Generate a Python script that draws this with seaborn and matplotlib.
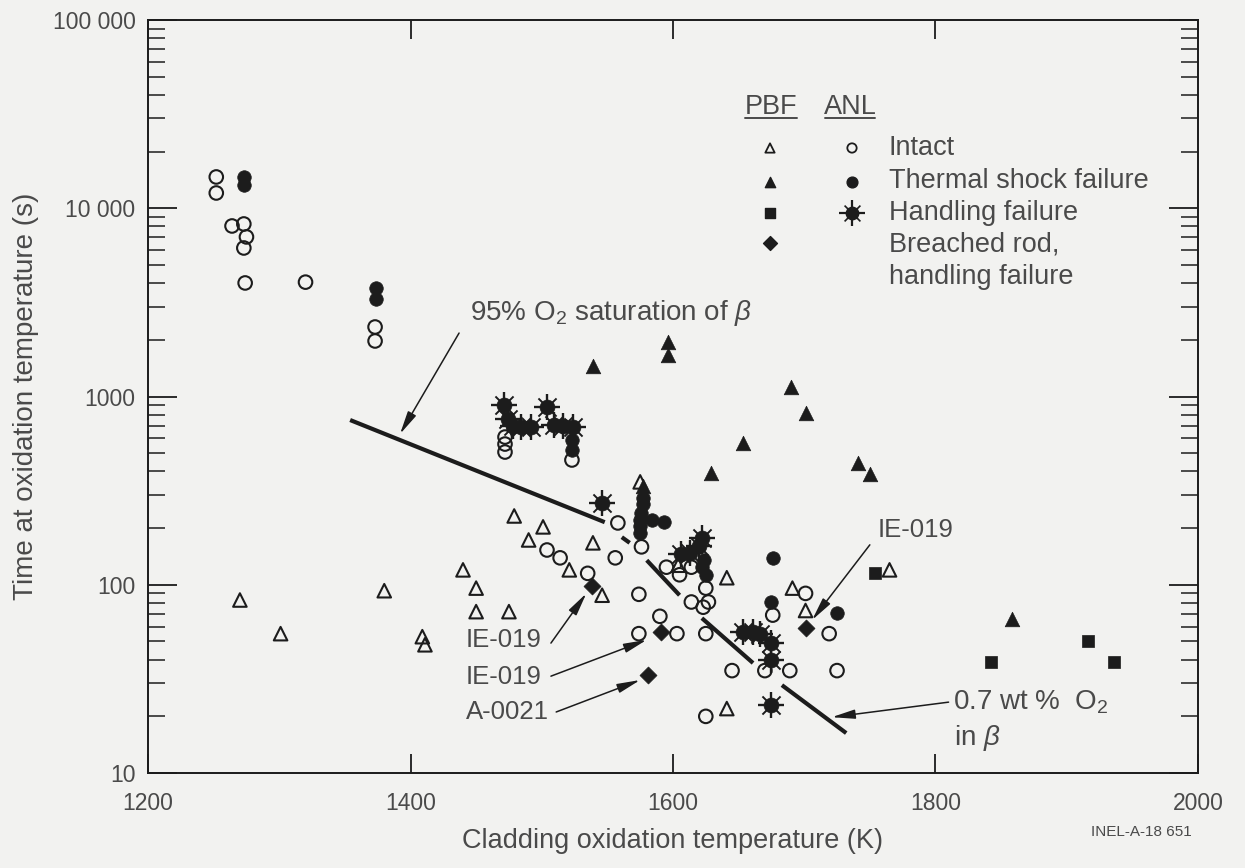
import numpy as np
import pandas as pd
import matplotlib
matplotlib.use("Agg")
import matplotlib.pyplot as plt
import seaborn as sns
from matplotlib.ticker import LogLocator, NullFormatter

# ---- data ----
# PBF intact (open triangles)
pbf_intact_temp = [1270, 1301, 1380, 1409, 1411, 1440, 1450, 1450, 1475, 1479, 1490, 1501,
                   1521, 1539, 1546, 1575, 1604, 1641, 1691, 1701, 1641, 1765]
pbf_intact_time = [83, 55, 93, 53, 48, 120, 96, 72, 72, 232, 173, 203,
                   120, 167, 88, 352, 127, 109, 96, 73, 22, 120]

# PBF thermal shock failure (filled triangles)
pbf_shock_temp = [1539, 1596, 1596, 1577, 1629, 1653, 1690, 1701, 1741, 1750, 1858]
pbf_shock_time = [1450, 1950, 1660, 335, 392, 566, 1123, 817, 443, 387, 66]

# PBF handling failure (filled squares)
pbf_handling_temp = [1754, 1842, 1916, 1936]
pbf_handling_time = [115, 39, 50, 39]

# PBF breached rod, handling failure (filled diamonds)
pbf_breached_temp = [1701, 1581, 1538, 1591]
pbf_breached_time = [59, 33, 98, 56]

# ANL intact (open circles)
anl_intact_temp = [1252, 1252, 1264, 1273, 1275, 1273, 1274, 1320, 1373, 1373,
                   1472, 1472, 1472, 1523, 1558, 1556, 1535, 1514, 1504, 1574,
                   1576, 1590, 1574, 1603, 1595, 1605, 1614, 1614, 1625, 1627,
                   1623, 1625, 1645, 1670, 1676, 1689, 1719, 1725, 1625, 1701]
anl_intact_time = [14660, 12050, 8050, 8250, 7040, 6150, 4010, 4050, 2340, 1972,
                   609, 559, 507, 460, 213, 139, 115, 139, 153, 89,
                   159, 68, 55, 55, 124, 113, 124, 81, 96, 81,
                   76, 55, 35, 35, 69, 35, 55, 35, 20, 90]

# ANL thermal shock failure (filled circles)
anl_shock_temp = [1273, 1273, 1374, 1374, 1523, 1523, 1577, 1577, 1576, 1575,
                  1584, 1593, 1575, 1575, 1624, 1622, 1625, 1676, 1675, 1725]
anl_shock_time = [14660, 13290, 3770, 3296, 587, 520, 290, 268, 240, 222,
                  220, 215, 205, 188, 135, 124, 113, 139, 81, 71]

# ANL handling failure (spiked dots)
anl_handling_temp = [1471, 1474, 1478, 1484, 1492, 1504, 1509, 1516, 1524, 1546,
                     1622, 1620, 1613, 1606, 1653, 1661, 1666, 1675, 1675, 1675]
anl_handling_time = [900, 760, 700, 690, 690, 880, 710, 700, 690, 272,
                     177, 160, 148, 145, 56, 56, 55, 49, 40, 23]

# reference lines
sat95_temp = [1354, 1548]
sat95_time = [750, 215]
o2_07_temp = [(1561, 1567), (1580, 1605), (1622, 1661), (1683, 1732)]
o2_07_time = [(179, 167), (135, 88), (66.5, 38.4), (29.3, 16.3)]

xticks = [1200, 1400, 1600, 1800, 2000]
yticks = [10, 100, 1000, 10000, 100000]
ytick_labels = ["10", "100", "1000", "10 000", "100 000"]

INK = "#1c1c1c"
TXT = "#4a4a4a"
BG = "#f2f2f0"

frames = []
for name, tx, ty in [("pbf_intact", pbf_intact_temp, pbf_intact_time),
                     ("pbf_shock", pbf_shock_temp, pbf_shock_time),
                     ("pbf_handling", pbf_handling_temp, pbf_handling_time),
                     ("pbf_breached", pbf_breached_temp, pbf_breached_time),
                     ("anl_intact", anl_intact_temp, anl_intact_time),
                     ("anl_shock", anl_shock_temp, anl_shock_time),
                     ("anl_handling", anl_handling_temp, anl_handling_time)]:
    frames.append(pd.DataFrame({"temp": tx, "time": ty, "series": name}))
df = pd.concat(frames, ignore_index=True)

sns.set_style("white")
plt.rcParams["font.family"] = ["Liberation Sans", "DejaVu Sans"]
plt.rcParams["mathtext.fontset"] = "custom"
plt.rcParams["mathtext.rm"] = "Liberation Sans"
plt.rcParams["mathtext.it"] = "Liberation Sans:italic"

fig = plt.figure(figsize=(12.45, 8.68), dpi=100, facecolor=BG)
ax = fig.add_axes([0.1189, 0.1094, 0.8433, 0.8676])
ax.set_facecolor(BG)

styles = {
    "pbf_intact": dict(marker="^", s=95, facecolors="none", edgecolor=INK, linewidth=1.5),
    "pbf_shock": dict(marker="^", s=110, color=INK, edgecolor=INK, linewidth=0.5),
    "pbf_handling": dict(marker="s", s=80, color=INK, edgecolor=INK, linewidth=0.5),
    "pbf_breached": dict(marker="D", s=75, color=INK, edgecolor=INK, linewidth=0.5),
    "anl_intact": dict(marker="o", s=95, facecolors="none", edgecolor=INK, linewidth=1.5),
    "anl_shock": dict(marker="o", s=95, color=INK, edgecolor=INK, linewidth=0.5),
    "anl_handling": dict(marker="o", s=115, color=INK, edgecolor=INK, linewidth=0.5),
}
for name, kw in styles.items():
    sub = df[df["series"] == name]
    sns.scatterplot(data=sub, x="temp", y="time", ax=ax, legend=False, zorder=3, **kw)
    if name == "anl_handling":
        sns.scatterplot(data=sub, x="temp", y="time", ax=ax, legend=False, zorder=3,
                        marker="+", s=360, color=INK, linewidth=1.7)
        sns.scatterplot(data=sub, x="temp", y="time", ax=ax, legend=False, zorder=3,
                        marker="x", s=170, color=INK, linewidth=1.4)

ax.plot(sat95_temp, sat95_time, color=INK, lw=3, solid_capstyle="butt", zorder=2)
for tx, ty in zip(o2_07_temp, o2_07_time):
    ax.plot(tx, ty, color=INK, lw=3, solid_capstyle="butt", zorder=2)

ax.set_yscale("log")
ax.set_xlim(1200, 2000)
ax.set_ylim(10, 100000)
ax.set_xticks(xticks)
ax.set_xticklabels([str(v) for v in xticks])
ax.set_yticks(yticks)
ax.set_yticklabels(ytick_labels)
ax.yaxis.set_minor_locator(LogLocator(base=10, subs=np.arange(2, 10)))
ax.yaxis.set_minor_formatter(NullFormatter())

ax.tick_params(axis="both", which="both", direction="in", top=True, right=True,
               left=True, bottom=True, colors=INK, labelcolor=TXT, labelsize=16.5)
ax.tick_params(axis="y", which="major", length=21, width=1.3, pad=9)
ax.tick_params(axis="y", which="minor", length=12, width=1.1)
ax.tick_params(axis="x", which="major", length=14, width=1.3, pad=14)
for sp in ax.spines.values():
    sp.set_color(INK)
    sp.set_linewidth(1.4)

ax.set_xlabel("Cladding oxidation temperature (K)", fontsize=19.5, color=TXT, labelpad=9)
ax.set_ylabel("Time at oxidation temperature (s)", fontsize=20, color=TXT, labelpad=10)

# annotations
arrow = dict(arrowstyle="-|>,head_length=1.4,head_width=0.28", color=INK, lw=1.1,
             shrinkA=0, shrinkB=0)
ax.text(1445, 2777, r"95% O$_2$ saturation of $\it{\beta}$", fontsize=20, color=TXT,
        ha="left", va="center")
ax.annotate("", xy=(1392, 632), xytext=(1437, 2173), arrowprops=arrow)

ax.text(1756, 195, "IE-019", fontsize=18.5, color=TXT, ha="left", va="center")
ax.annotate("", xy=(1706, 65), xytext=(1750, 163), arrowprops=arrow)

ax.text(1442, 50.9, "IE-019", fontsize=18.5, color=TXT, ha="left", va="center")
ax.annotate("", xy=(1534, 90), xytext=(1507, 49), arrowprops=arrow)
ax.text(1442, 32.4, "IE-019", fontsize=18.5, color=TXT, ha="left", va="center")
ax.annotate("", xy=(1580, 51), xytext=(1507, 32.7), arrowprops=arrow)
ax.text(1442, 21.1, "A-0021", fontsize=18.5, color=TXT, ha="left", va="center")
ax.annotate("", xy=(1575, 31.2), xytext=(1511, 21.1), arrowprops=arrow)

ax.text(1813, 23.8, r"0.7 wt %  O$_2$", fontsize=20, color=TXT, ha="left", va="center")
ax.text(1814, 15.3, r"in $\it{\beta}$", fontsize=20, color=TXT, ha="left", va="center")
ax.annotate("", xy=(1721, 19.8), xytext=(1810, 23.8), arrowprops=arrow)

# legend drawn by hand
T = ax.transAxes
ax.text(0.5933, 0.8845, "PBF", transform=T, fontsize=19.5, color=TXT, ha="center", va="center")
ax.text(0.6686, 0.8845, "ANL", transform=T, fontsize=19.5, color=TXT, ha="center", va="center")
ax.plot([0.5686, 0.618], [0.8692, 0.8692], transform=T, color=TXT, lw=1.4)
ax.plot([0.6448, 0.6924], [0.8692, 0.8692], transform=T, color=TXT, lw=1.4)
rows = [0.830, 0.785, 0.7437, 0.7038]
ax.scatter([0.5924], [rows[0]], transform=T, marker="^", s=45, facecolors="none", edgecolors=INK, linewidths=1.3)
ax.scatter([0.5924], [rows[1]], transform=T, marker="^", s=55, color=INK)
ax.scatter([0.5924], [rows[2]], transform=T, marker="s", s=45, color=INK)
ax.scatter([0.5924], [rows[3]], transform=T, marker="D", s=50, color=INK)
ax.scatter([0.6705], [rows[0]], transform=T, marker="o", s=45, facecolors="none", edgecolors=INK, linewidths=1.3)
ax.scatter([0.6705], [rows[1]], transform=T, marker="o", s=60, color=INK)
ax.scatter([0.6705], [rows[2]], transform=T, marker="o", s=80, color=INK)
ax.scatter([0.6705], [rows[2]], transform=T, marker="+", s=330, color=INK, linewidths=1.6)
ax.scatter([0.6705], [rows[2]], transform=T, marker="x", s=130, color=INK, linewidths=1.2)
labels = ["Intact", "Thermal shock failure", "Handling failure", "Breached rod,", "handling failure"]
for lab, yy in zip(labels, [0.830, 0.7862, 0.7437, 0.7012, 0.6587]):
    ax.text(0.7057, yy, lab, transform=T, fontsize=19.5, color=TXT, ha="left", va="center")

fig.text(0.917, 0.041, "INEL-A-18 651", fontsize=11, color=TXT, ha="center", va="center")

fig.savefig("out.png", dpi=100, facecolor=BG)
